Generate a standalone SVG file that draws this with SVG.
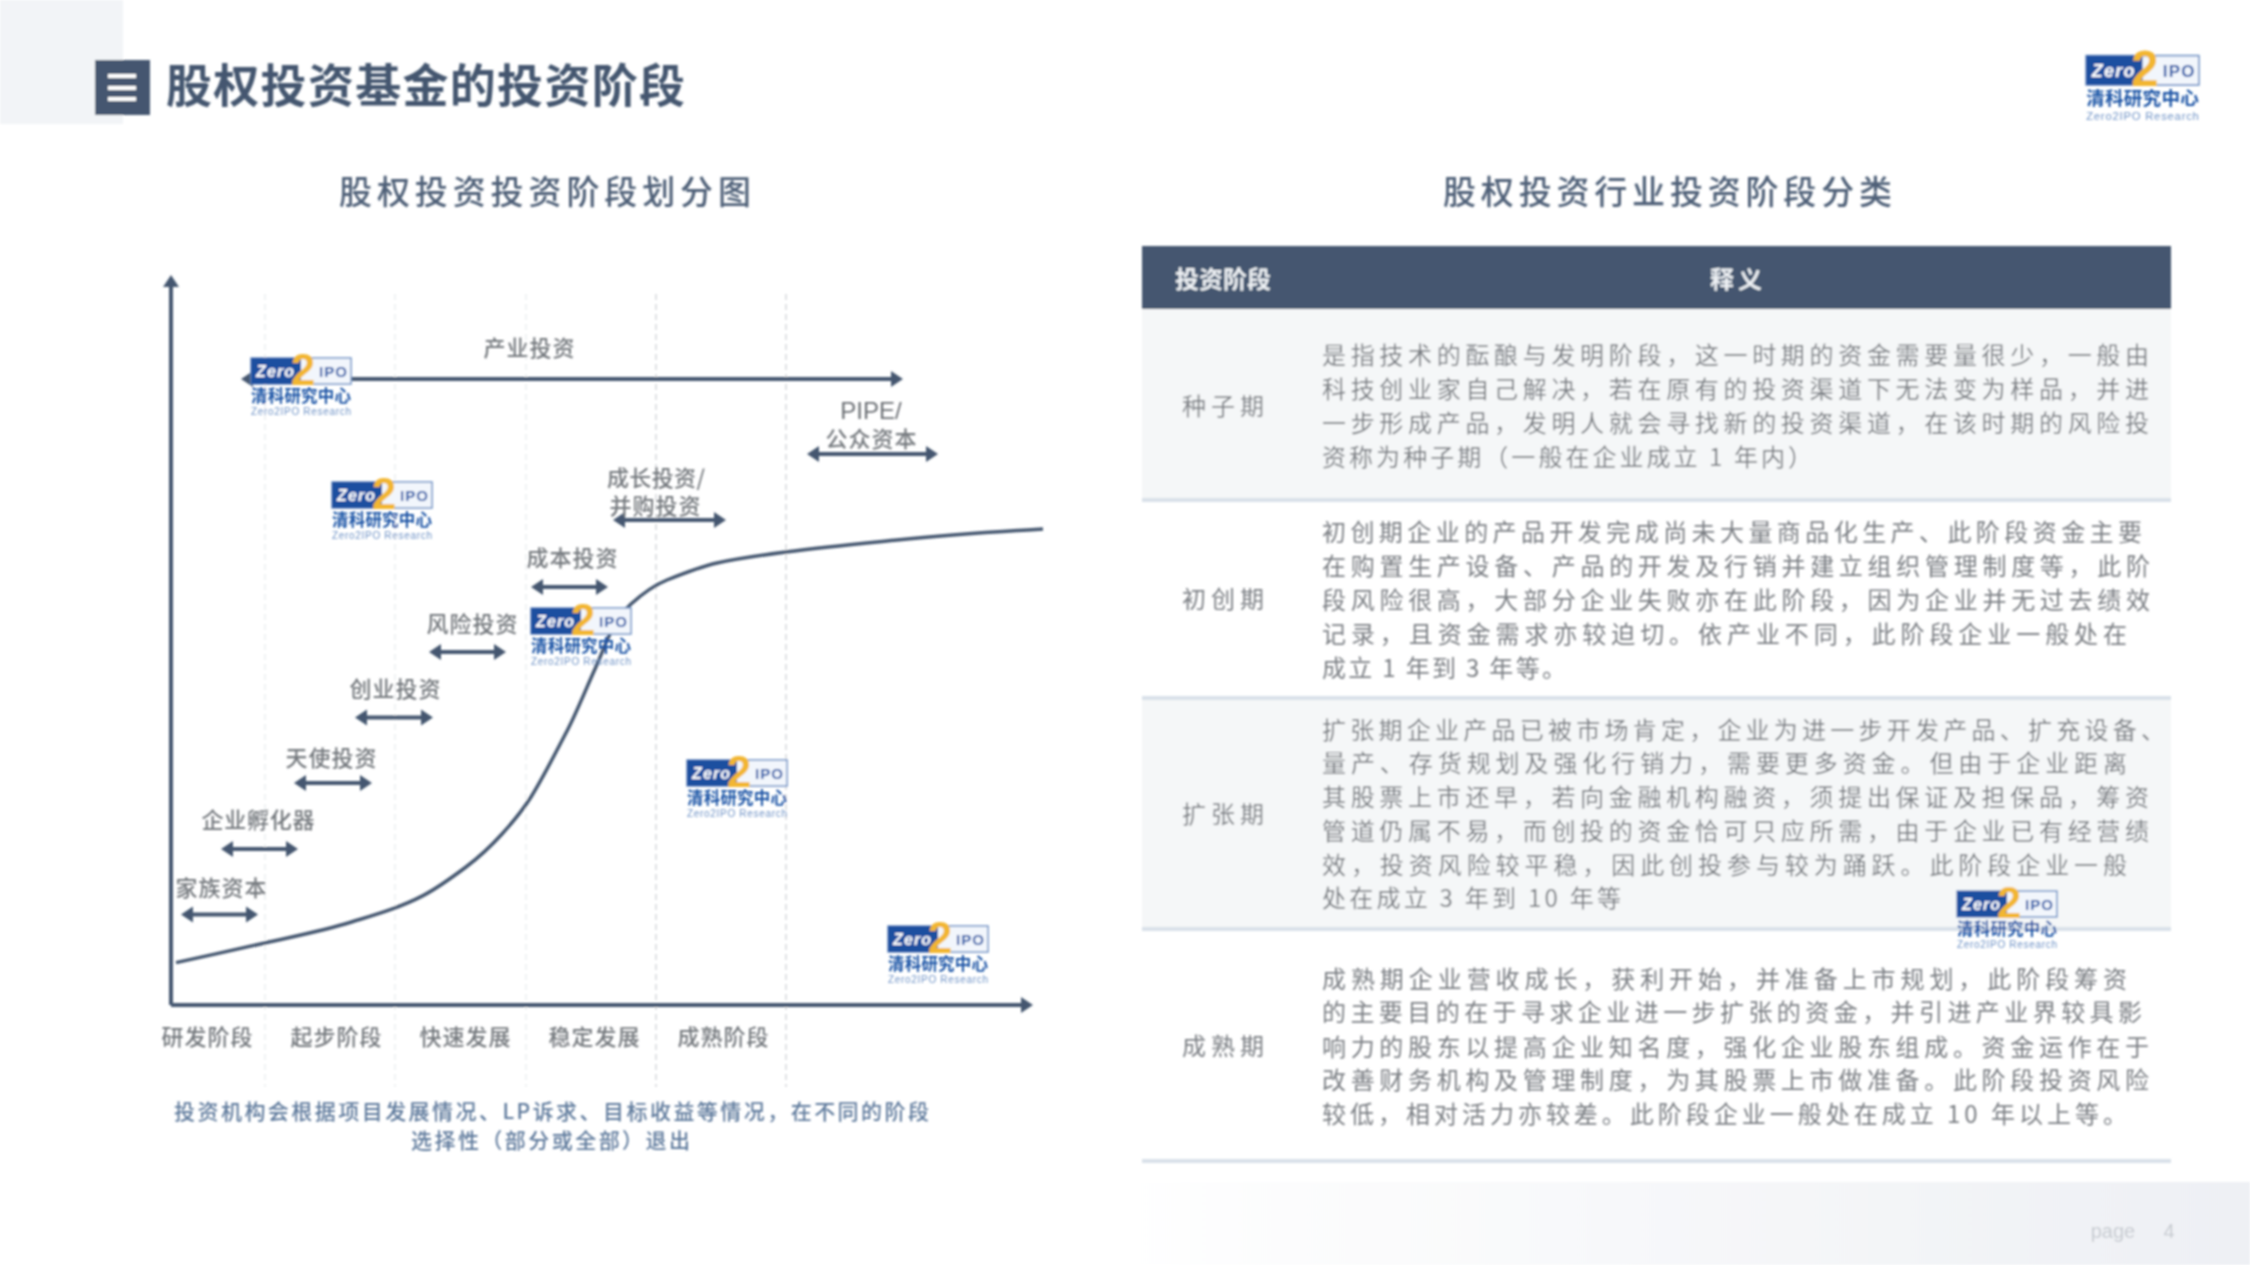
<svg xmlns="http://www.w3.org/2000/svg" xmlns:xlink="http://www.w3.org/1999/xlink" width="2250" height="1265" viewBox="0 0 2250 1265">
<style>
text{font-family:"Noto Sans CJK SC","Liberation Sans",sans-serif}
.title{font-size:46px;font-weight:700;fill:#44576f}
.sub{font-size:33px;font-weight:500;fill:#4f6178}
.lab{font-size:22px;font-weight:500;fill:#75797e;text-anchor:middle}
.pipe{font-size:24px;font-weight:500;fill:#6a6e73;text-anchor:middle;font-family:"Liberation Sans",sans-serif}
.note{font-size:21px;font-weight:500;fill:#5f7a9c}
.th{font-size:24px;font-weight:700;fill:#eef1f4;text-anchor:middle}
.rl{font-size:24px;fill:#7b7f84;text-anchor:middle}
.b{font-size:24px;fill:#7b7f84}
.pg{font-size:20px;fill:#c6cad0;font-family:"Liberation Sans",sans-serif;text-anchor:middle}
.ar{stroke:#44576f;stroke-width:4;fill:none}
.gl{stroke:#eceef1;stroke-width:1.5;stroke-dasharray:6 4;fill:none}
.gd{stroke:#d5d8dc;stroke-width:1.5;stroke-dasharray:6 4;fill:none}
.sep{stroke:#d9e1e9;stroke-width:4}
.lz{font-size:16px;font-weight:700;font-style:italic;fill:#fff;font-family:"Liberation Sans",sans-serif}
.li{font-size:15px;font-weight:700;fill:#2a5aa8;font-family:"Liberation Sans",sans-serif}
.l2{font-size:44px;font-weight:700;fill:#f2b632;font-family:"Liberation Sans",sans-serif;text-anchor:middle}
.lc{font-size:16.5px;font-weight:700;fill:#1d55a6}
.le{font-size:10px;fill:#6f93c6;font-family:"Liberation Sans",sans-serif}
</style>
<defs>
<linearGradient id="foot" x1="0" y1="0" x2="1" y2="0"><stop offset="0" stop-color="#ffffff"/><stop offset="1" stop-color="#eef0f4"/></linearGradient>
<marker id="ah" markerUnits="userSpaceOnUse" markerWidth="13" markerHeight="20" refX="1" refY="10" orient="auto-start-reverse"><path d="M0 2L12 10L0 18Z" fill="#44576f"/></marker>
<filter id="soft" filterUnits="userSpaceOnUse" x="0" y="0" width="2250" height="1265"><feGaussianBlur stdDeviation="0.8"/></filter>
<symbol id="logo" viewBox="0 0 100 63" overflow="visible">
<rect x="0" y="5" width="100" height="26" fill="#f2f6fc" stroke="#6f93c6" stroke-width="1.5"/>
<rect x="0" y="5" width="50" height="26" fill="#1f4fa0"/>
<text class="lz" x="5" y="24" textLength="38">Zero</text>
<text class="li" x="68" y="24" textLength="28">IPO</text>
<text class="l2" x="52" y="32">2</text>
<text class="lc" x="0" y="49" textLength="100">清科研究中心</text>
<text class="le" x="0" y="62" textLength="100">Zero2IPO Research</text>
</symbol>
</defs>
<rect width="2250" height="1265" fill="#ffffff"/>
<g filter="url(#soft)">
<g id="bg">
<rect x="0" y="0" width="123" height="124" fill="#f2f4f7"/>
<rect x="1100" y="1182" width="1150" height="83" fill="url(#foot)"/>
</g>
<g id="header">
<rect x="95" y="60" width="55" height="55" fill="#44576f"/>
<path d="M108 76H136M108 88H136M108 99H136" stroke="#fff" stroke-width="4" fill="none"/>
<text class="title" x="166" y="102" textLength="519">股权投资基金的投资阶段</text>
<text class="sub" x="339" y="204" textLength="412">股权投资投资阶段划分图</text>
<text class="sub" x="1443" y="204" textLength="449">股权投资行业投资阶段分类</text>
</g>
<g id="table">
<rect x="1142" y="309" width="1029" height="190" fill="#f5f7f8"/>
<rect x="1142" y="697" width="1029" height="232" fill="#f5f7f8"/>
<rect x="1142" y="246" width="1029" height="63" fill="#44576f"/>
<path class="sep" d="M1142 500H2171M1142 698H2171M1142 929H2171M1142 1161H2171"/>
<text class="th" x="1223" y="288">投资阶段</text>
<text class="th" x="1736" y="288" textLength="52">释义</text>
<text class="rl" x="1223" y="415" textLength="82">种子期</text>
<text class="rl" x="1223" y="608" textLength="82">初创期</text>
<text class="rl" x="1223" y="823" textLength="82">扩张期</text>
<text class="rl" x="1223" y="1055" textLength="82">成熟期</text>
<text class="b" x="1322" y="364" textLength="827">是指技术的酝酿与发明阶段&#65292;这一时期的资金需要量很少&#65292;一般由</text>
<text class="b" x="1322" y="398" textLength="827">科技创业家自己解决&#65292;若在原有的投资渠道下无法变为样品&#65292;并进</text>
<text class="b" x="1322" y="432" textLength="827">一步形成产品&#65292;发明人就会寻找新的投资渠道&#65292;在该时期的风险投</text>
<text class="b" x="1322" y="466" textLength="490">资称为种子期&#65288;一般在企业成立 1 年内&#65289;</text>
<text class="b" x="1322" y="541" textLength="820">初创期企业的产品开发完成尚未大量商品化生产、此阶段资金主要</text>
<text class="b" x="1322" y="575" textLength="828">在购置生产设备、产品的开发及行销并建立组织管理制度等&#65292;此阶</text>
<text class="b" x="1322" y="609" textLength="828">段风险很高&#65292;大部分企业失败亦在此阶段&#65292;因为企业并无过去绩效</text>
<text class="b" x="1322" y="643" textLength="805">记录&#65292;且资金需求亦较迫切。依产业不同&#65292;此阶段企业一般处在</text>
<text class="b" x="1322" y="677" textLength="244">成立 1 年到 3 年等。</text>
<text class="b" x="1322" y="739" textLength="843">扩张期企业产品已被市场肯定&#65292;企业为进一步开发产品、扩充设备、</text>
<text class="b" x="1322" y="772" textLength="805">量产、存货规划及强化行销力&#65292;需要更多资金。但由于企业距离</text>
<text class="b" x="1322" y="806" textLength="827">其股票上市还早&#65292;若向金融机构融资&#65292;须提出保证及担保品&#65292;筹资</text>
<text class="b" x="1322" y="840" textLength="827">管道仍属不易&#65292;而创投的资金恰可只应所需&#65292;由于企业已有经营绩</text>
<text class="b" x="1322" y="874" textLength="805">效&#65292;投资风险较平稳&#65292;因此创投参与较为踊跃。此阶段企业一般</text>
<text class="b" x="1322" y="907" textLength="299">处在成立 3 年到 10 年等</text>
<text class="b" x="1322" y="988" textLength="805">成熟期企业营收成长&#65292;获利开始&#65292;并准备上市规划&#65292;此阶段筹资</text>
<text class="b" x="1322" y="1021" textLength="820">的主要目的在于寻求企业进一步扩张的资金&#65292;并引进产业界较具影</text>
<text class="b" x="1322" y="1056" textLength="827">响力的股东以提高企业知名度&#65292;强化企业股东组成。资金运作在于</text>
<text class="b" x="1322" y="1089" textLength="827">改善财务机构及管理制度&#65292;为其股票上市做准备。此阶段投资风险</text>
<text class="b" x="1322" y="1123" textLength="805">较低&#65292;相对活力亦较差。此阶段企业一般处在成立 10 年以上等。</text>
</g>
<g id="connectors">
<path class="gl" d="M265 294V1087M395 294V1087M526 294V1087"/>
<path class="gd" d="M656 294V1087M786 294V1087"/>
<line class="ar" x1="171" y1="1005" x2="171" y2="286" marker-end="url(#ah)"/>
<line class="ar" x1="171" y1="1005" x2="1022" y2="1005" marker-end="url(#ah)"/>
<path fill="none" stroke="#44576f" stroke-width="3.5" d="M176 962.6C205.7 956 235.3 949.8 265 943C293.8 936.4 322.7 930.9 351.5 922C375.3 914.6 399.2 908 423 895.6C437.3 888.2 451.7 877.7 466 867C478 858 490 847.2 502 834C511.7 823.3 521.3 812.5 531 797C543 777.8 555 753.8 567 731C576.3 713.3 585.7 689.5 595 669C601 655.8 607 638.8 613 628C619 617.2 625 609.4 631 604C643 593.2 655 584.8 667 580C683.7 573.3 700.3 566.7 717 563C740 558 763 555 786 552C823 547.2 860 543.7 897 540C944.7 535.2 992.3 532 1043 529"/>
<line class="ar" x1="252" y1="379" x2="892" y2="379" marker-start="url(#ah)" marker-end="url(#ah)"/>
<line class="ar" x1="818" y1="454" x2="927" y2="454" marker-start="url(#ah)" marker-end="url(#ah)"/>
<line class="ar" x1="624" y1="520" x2="715" y2="520" marker-start="url(#ah)" marker-end="url(#ah)"/>
<line class="ar" x1="542" y1="587" x2="597" y2="587" marker-start="url(#ah)" marker-end="url(#ah)"/>
<line class="ar" x1="440" y1="652" x2="495" y2="652" marker-start="url(#ah)" marker-end="url(#ah)"/>
<line class="ar" x1="366" y1="717.5" x2="422" y2="717.5" marker-start="url(#ah)" marker-end="url(#ah)"/>
<line class="ar" x1="305" y1="783" x2="361" y2="783" marker-start="url(#ah)" marker-end="url(#ah)"/>
<line class="ar" x1="232" y1="849" x2="287" y2="849" marker-start="url(#ah)" marker-end="url(#ah)"/>
<line class="ar" x1="192" y1="914.5" x2="247" y2="914.5" marker-start="url(#ah)" marker-end="url(#ah)"/>
</g>
<g id="stage-labels">
<text class="lab" x="529" y="356" textLength="91">产业投资</text>
<text class="pipe" x="871" y="419">PIPE/</text>
<text class="lab" x="871" y="447" textLength="91">公众资本</text>
<text class="lab" x="656" y="486" textLength="98">成长投资/</text>
<text class="lab" x="655" y="514" textLength="91">并购投资</text>
<text class="lab" x="572" y="566" textLength="91">成本投资</text>
<text class="lab" x="472" y="632" textLength="91">风险投资</text>
<text class="lab" x="395" y="697" textLength="91">创业投资</text>
<text class="lab" x="331" y="766" textLength="91">天使投资</text>
<text class="lab" x="258" y="828" textLength="113">企业孵化器</text>
<text class="lab" x="221" y="896" textLength="91">家族资本</text>
<text class="lab" x="207" y="1045" textLength="91">研发阶段</text>
<text class="lab" x="336" y="1045" textLength="91">起步阶段</text>
<text class="lab" x="465" y="1045" textLength="91">快速发展</text>
<text class="lab" x="594" y="1045" textLength="91">稳定发展</text>
<text class="lab" x="723" y="1045" textLength="91">成熟阶段</text>
</g>
<g id="note">
<text class="note" x="174" y="1119" textLength="755">投资机构会根据项目发展情况、LP诉求、目标收益等情况&#65292;在不同的阶段</text>
<text class="note" x="411" y="1148" textLength="279">选择性&#65288;部分或全部&#65289;退出</text>
</g>
<g id="logos">
<use id="logo-1" xlink:href="#logo" href="#logo" x="251" y="353" width="100" height="63"/>
<use id="logo-2" xlink:href="#logo" href="#logo" x="332" y="477" width="100" height="63"/>
<use id="logo-3" xlink:href="#logo" href="#logo" x="531" y="603" width="100" height="63"/>
<use id="logo-4" xlink:href="#logo" href="#logo" x="687" y="755" width="100" height="63"/>
<use id="logo-5" xlink:href="#logo" href="#logo" x="888" y="921" width="100" height="63"/>
<use id="logo-6" xlink:href="#logo" href="#logo" x="1957" y="886" width="100" height="63"/>
<use id="logo-top" xlink:href="#logo" href="#logo" x="2086" y="50" width="113" height="71"/>
</g>
<g id="footer">
<text class="pg" x="2113" y="1238">page</text>
<text class="pg" x="2169" y="1238">4</text>
</g>
</g>
</svg>
